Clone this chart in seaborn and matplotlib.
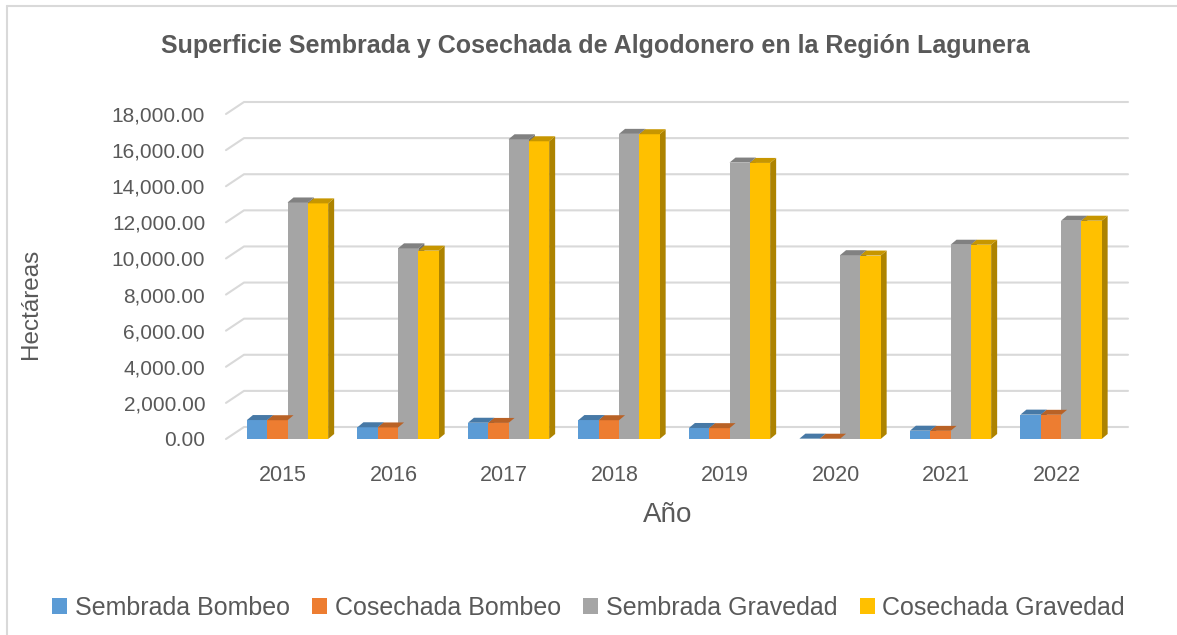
import numpy as np
import pandas as pd
import matplotlib
matplotlib.use("Agg")
import matplotlib.pyplot as plt
import matplotlib.colors as mcolors
import matplotlib.transforms as mtransforms
from matplotlib.patches import Polygon, Rectangle
from matplotlib.lines import Line2D
from matplotlib.ticker import FuncFormatter
import seaborn as sns

# datos
years = ["2015", "2016", "2017", "2018", "2019", "2020", "2021", "2022"]
series = ["Sembrada Bombeo", "Cosechada Bombeo", "Sembrada Gravedad", "Cosechada Gravedad"]
sembrada_bombeo = [1050, 650, 900, 1050, 610, 20, 460, 1350]
cosechada_bombeo = [1040, 640, 890, 1040, 600, 15, 450, 1340]
sembrada_gravedad = [13100, 10560, 16600, 16900, 15310, 10180, 10760, 12090]
cosechada_gravedad = [13050, 10430, 16490, 16880, 15290, 10160, 10760, 12090]
yticks = list(range(0, 18001, 2000))

colors = ["#5B9BD5", "#ED7D31", "#A5A5A5", "#FFC000"]
text_color = "#595959"

sns.set_theme(style="white")
plt.rcParams["font.family"] = ["Liberation Sans", "DejaVu Sans"]

rows = []
for name, vals in zip(series, [sembrada_bombeo, cosechada_bombeo, sembrada_gravedad, cosechada_gravedad]):
    for y, v in zip(years, vals):
        rows.append({"Año": y, "Hectáreas": v, "Serie": name})
df = pd.DataFrame(rows)

fig = plt.figure(figsize=(11.77, 6.35), dpi=100)
ax = fig.add_axes([226 / 1177, 1 - 439 / 635, (1128 - 226) / 1177, (439 - 114) / 635])

sns.barplot(data=df, x="Año", y="Hectáreas", hue="Serie", palette=colors,
            width=0.735, saturation=1, linewidth=0, edgecolor="none",
            ax=ax, legend=False, zorder=3)

ax.set_ylim(0, 18000)
ax.set_xlim(-0.557, 7.606)

# efecto 3D: caras superior y lateral de cada barra
px_x = 1 / 110.5
px_y = 18000 / 325.0
bdx, bdy = 6 * px_x, 5 * px_y
for p in ax.patches:
    x0, w, h = p.get_x(), p.get_width(), p.get_height()
    fc = np.array(mcolors.to_rgb(p.get_facecolor()))
    top = Polygon([(x0, h), (x0 + bdx, h + bdy), (x0 + w + bdx, h + bdy), (x0 + w, h)],
                  closed=True, facecolor=fc * 0.78, edgecolor="none", zorder=3.5, clip_on=False)
    side = Polygon([(x0 + w, 0), (x0 + w + bdx, bdy), (x0 + w + bdx, h + bdy), (x0 + w, h)],
                   closed=True, facecolor=fc * 0.68, edgecolor="none", zorder=2.5, clip_on=False)
    ax.add_patch(top)
    ax.add_patch(side)

# líneas de cuadrícula en la pared del fondo
gdx, gdy = 18 * px_x, 12 * px_y
xl, xr = ax.get_xlim()
for v in yticks:
    ax.plot([xl, xl + gdx, xr], [v, v + gdy, v + gdy], color="#D9D9D9",
            lw=1.5, zorder=1, clip_on=False)

for s in ax.spines.values():
    s.set_visible(False)
ax.set_yticks(yticks)
ax.yaxis.set_major_formatter(FuncFormatter(lambda v, _: f"{v:,.2f}"))
ax.tick_params(axis="y", length=0, pad=15, labelsize=15, labelcolor=text_color)
ax.tick_params(axis="x", length=0, pad=19, labelsize=15.5, labelcolor=text_color)
shift = mtransforms.ScaledTranslation(-4.5 / 100, 0, fig.dpi_scale_trans)
for lab in ax.get_xticklabels():
    lab.set_transform(lab.get_transform() + shift)

ax.set_xlabel("Año", fontsize=20, color=text_color)
ax.xaxis.set_label_coords(0.49, -0.195)
ax.set_ylabel("Hectáreas", fontsize=17.5, color=text_color)
ax.yaxis.set_label_coords(-0.204, 0.417)

fig.text(0.5 + 7 / 1177, 1 - 46 / 635, "Superficie Sembrada y Cosechada de Algodonero en la Región Lagunera",
         ha="center", va="center", fontsize=18, fontweight="bold", color=text_color)

handles = [Rectangle((0, 0), 1, 1, facecolor=c, edgecolor="none") for c in colors]
fig.legend(handles, series, loc="center", bbox_to_anchor=(0.5, 1 - 608 / 635), ncol=4,
           frameon=False, fontsize=18, handlelength=0.6, handleheight=0.6,
           handletextpad=0.3, columnspacing=0.9, labelcolor=text_color)

# borde del área del gráfico
fig.add_artist(Line2D([7 / 1177, 7 / 1177], [0, 1 - 6 / 635], transform=fig.transFigure,
                      color="#D9D9D9", lw=1.5))
fig.add_artist(Line2D([7 / 1177, 1], [1 - 6 / 635, 1 - 6 / 635], transform=fig.transFigure,
                      color="#D9D9D9", lw=1.5))

fig.savefig("out.png", dpi=100)
